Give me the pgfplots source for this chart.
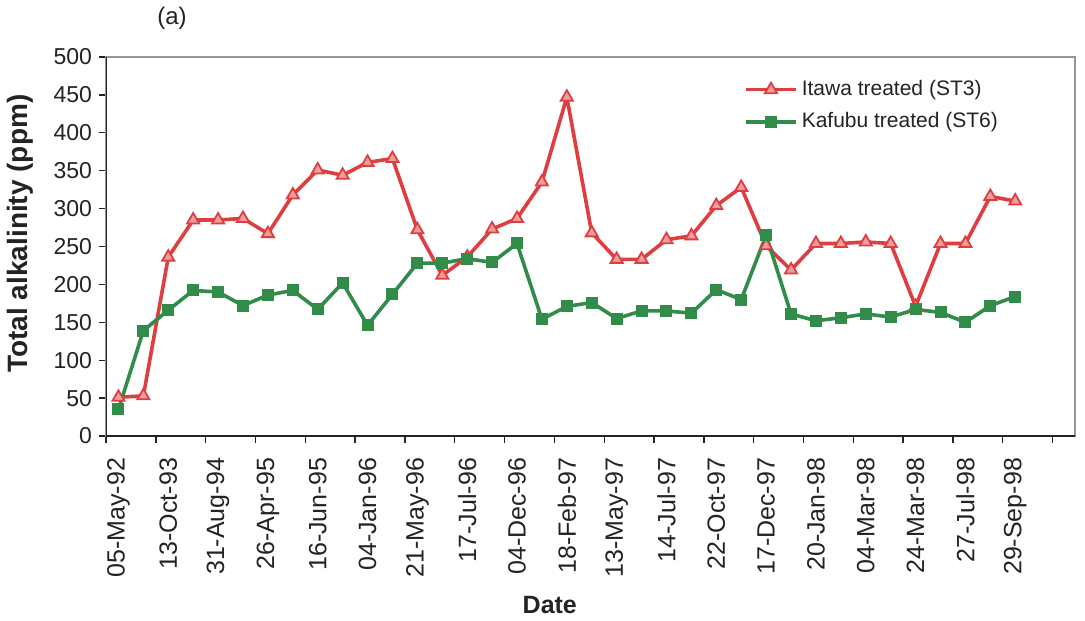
\documentclass[border=0pt]{standalone}
\usepackage{fontspec}
\setmainfont{Liberation Sans}
\usepackage{pgfplots}
\pgfplotsset{compat=1.18}

\definecolor{itawa}{RGB}{222,62,64}
\definecolor{kafubu}{RGB}{48,140,72}
\definecolor{framegray}{RGB}{150,150,150}
\definecolor{txt}{RGB}{35,35,35}

\begin{document}
\begin{tikzpicture}
\begin{axis}[
  name=ax,
  scale only axis,
  width=484.5pt, height=189.5pt,
  xmin=-0.5, xmax=38.4,
  ymin=0, ymax=500,
  ytick={0,50,...,500},
  xtick={0,2,...,36},
  xticklabels={05-May-92,13-Oct-93,31-Aug-94,26-Apr-95,16-Jun-95,04-Jan-96,
    21-May-96,17-Jul-96,04-Dec-96,18-Feb-97,13-May-97,14-Jul-97,22-Oct-97,
    17-Dec-97,20-Jan-98,04-Mar-98,24-Mar-98,27-Jul-98,29-Sep-98},
  minor xtick={-0.5,1.5,...,37.5},
  xtick pos=bottom, ytick pos=left,
  tick align=outside,
  major tick length=3.5pt, minor tick length=3.5pt,
  every tick/.style={txt, line width=0.7pt},
  major x tick style={draw=none},
  axis line style={framegray, line width=0.8pt},
  /pgf/number format/assume math mode=true,
  tick label style={font=\fontsize{11.5}{13}\selectfont, text=txt},
  xticklabel style={rotate=90, anchor=east, font=\fontsize{12.5}{14}\selectfont},
  xticklabel shift=4pt,
  xlabel={Date},
  xlabel style={at={(axis description cs:0.458,-0.446)}, anchor=center,
    font=\bfseries\fontsize{12.5}{14}\selectfont, text=txt},
  ylabel={Total alkalinity (ppm)},
  ylabel style={at={(axis description cs:-0.0888,0.534)}, anchor=center,
    font=\bfseries\fontsize{14}{16}\selectfont, text=txt},
  legend style={at={(axis description cs:0.652,0.96)}, anchor=north west,
    draw=none, fill=none, font=\fontsize{10.5}{12}\selectfont, text=txt,
    row sep=3pt},
  legend cell align=left,
  legend image code/.code={\draw[mark repeat=2,mark phase=2]
    plot coordinates {(0pt,0pt) (12.5pt,0pt) (25pt,0pt)};},
]
\addplot[itawa, line width=1.8pt, mark=triangle*, mark size=3.5pt,
  mark options={fill=itawa!50!white, draw=itawa, line width=0.9pt}] coordinates {
  (0,51) (1,53) (2,236) (3,285) (4,285) (5,287) (6,267) (7,318) (8,351)
  (9,344) (10,361) (11,366) (12,272) (13,212) (14,236) (15,273) (16,287)
  (17,335) (18,447) (19,268) (20,233) (21,233) (22,259) (23,264) (24,304)
  (25,328) (26,251) (27,219) (28,254) (29,254) (30,256) (31,254) (32,171)
  (33,254) (34,254) (35,316) (36,310)
};
\addlegendentry{Itawa treated (ST3)}
\addplot[kafubu, line width=1.8pt, mark=square*, mark size=2.7pt,
  mark options={fill=kafubu, draw=kafubu, line width=0.6pt}] coordinates {
  (0,35) (1,139) (2,166) (3,192) (4,190) (5,172) (6,186) (7,192) (8,167)
  (9,202) (10,146) (11,187) (12,228) (13,228) (14,234) (15,229) (16,254)
  (17,154) (18,171) (19,176) (20,155) (21,165) (22,165) (23,162) (24,193)
  (25,180) (26,265) (27,161) (28,152) (29,156) (30,161) (31,157) (32,167)
  (33,163) (34,150) (35,172) (36,184)
};
\addlegendentry{Kafubu treated (ST6)}
\draw[txt, line width=0.9pt] (rel axis cs:0,1) -- (rel axis cs:0,0) -- (rel axis cs:1,0);
\end{axis}
\node[font=\fontsize{12}{14}\selectfont, text=txt]
  at ([shift={(33pt,19.5pt)}]ax.north west) {(a)};
\pgfresetboundingbox
\path[use as bounding box] ([shift={(-53pt,-92pt)}]ax.south west)
  rectangle ([shift={(5pt,28.5pt)}]ax.north east);
\end{tikzpicture}
\end{document}
